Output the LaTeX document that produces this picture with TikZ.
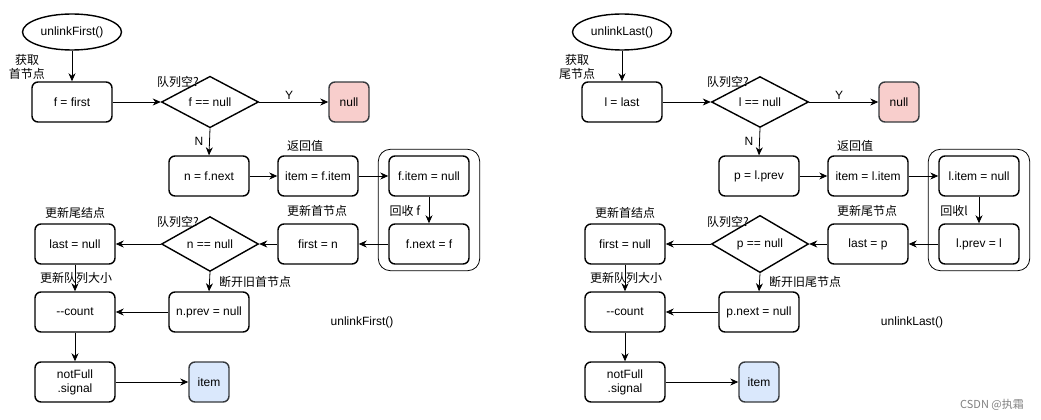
\documentclass[tikz,border=0pt]{standalone}
\usepackage{fontspec}
\setmainfont{Liberation Sans}
\newfontfamily\cjk{Noto Sans CJK SC}
\usetikzlibrary{shapes.geometric,arrows.meta,fit}
\definecolor{pinkf}{HTML}{F8CECC}
\definecolor{bluef}{HTML}{DAE8FC}
\definecolor{bordg}{HTML}{36393D}
\tikzset{
  fs/.style={font=\fontsize{12}{14}\selectfont},
  box/.style={fs, draw, line width=1.4pt, rounded corners=6pt, minimum width=80pt, minimum height=40pt, align=center, inner sep=1pt},
  sbox/.style={box, minimum width=40pt, draw=bordg},
  dia/.style={fs, draw, diamond, line width=1.4pt, minimum width=97pt, minimum height=37pt, inner sep=0pt},
  ell/.style={fs, draw, ellipse, line width=1.4pt, minimum width=99pt, minimum height=36pt, inner sep=0pt},
  lbl/.style={fs, inner sep=0pt, align=center},
  clbl/.style={lbl, font=\fontsize{12}{14}\selectfont\cjk},
  grp/.style={draw, line width=0.8pt, rounded corners=12pt, inner xsep=10pt, inner ysep=6pt},
  arr/.style={-{Stealth[length=8pt,width=7pt,inset=2.5pt]}, line width=0.8pt}
}
\begin{document}
\begin{tikzpicture}[x=1pt,y=-1pt]
\useasboundingbox (0,0) rectangle (1041,420);
% ---------------- left: unlinkFirst ----------------
\node[ell] (e1) at (72,32) {unlinkFirst()};
\node[box] (a1) at (72,102) {f = first};
\node[dia] (d1) at (210,102) {f == null};
\node[sbox, fill=pinkf] (n1) at (349,102) {null};
\node[box] (b1) at (209,176) {n = f.next};
\node[box] (b2) at (318,176) {item = f.item};
\node[box] (b3) at (429,176) {f.item = null};
\node[box] (b4) at (429,244) {f.next = f};
\node[grp, fit=(b3)(b4)] (g1) {};
\node[box] (b5) at (318,244) {first = n};
\node[dia] (d2) at (210,244) {n == null};
\node[box] (b6) at (75,244) {last = null};
\node[box] (b7) at (209,312) {n.prev = null};
\node[box] (b8) at (75,312) {-{}-count};
\node[box] (b9) at (75,382) {notFull\\.signal};
\node[sbox, fill=bluef] (i1) at (209,382) {item};

\node[clbl] (t1) at (27,67) {获取\\首节点};
\node[clbl] (t2) at (178,82) {队列空?};
\node[lbl] (t3) at (289,95) {Y};
\node[lbl] (t4) at (199,141) {N};
\node[clbl] (t5) at (305,146) {返回值};
\node[clbl] (t6) at (405,211) {回收 f};
\node[clbl] (t7) at (317,211) {更新首节点};
\node[clbl] (t8) at (75,213) {更新尾结点};
\node[clbl] (t9) at (178,222) {队列空?};
\node[clbl] (t10) at (76,278) {更新队列大小};
\node[clbl] (t11) at (255,282) {断开旧首节点};
\node[lbl] (t12) at (362,322) {unlinkFirst()};

\draw[arr] (e1.south) -- (a1.north);
\draw[arr] (a1.east) -- (d1.west);
\draw[arr] (d1.east) -- (n1.west);
\draw[arr] (d1.south) -- (b1.north);
\draw[arr] (b1.east) -- (b2.west);
\draw[arr] (b2.east) -- (b3.west);
\draw[arr] (b3.south) -- (b4.north);
\draw[arr] (b4.west) -- (b5.east);
\draw[arr] (b5.west) -- (d2.east);
\draw[arr] (d2.west) -- (b6.east);
\draw[arr] (d2.south) -- (b7.north);
\draw[arr] (b6.south) -- (b8.north);
\draw[arr] (b7.west) -- (b8.east);
\draw[arr] (b8.south) -- (b9.north);
\draw[arr] (b9.east) -- (i1.west);

% ---------------- right: unlinkLast ----------------
\node[ell] (e2) at (622,32) {unlinkLast()};
\node[box] (c1) at (622,102) {l = last};
\node[dia] (d3) at (760,102) {l == null};
\node[sbox, fill=pinkf] (n2) at (899,102) {null};
\node[box] (c2) at (759,176) {p = l.prev};
\node[box] (c3) at (868,176) {item = l.item};
\node[box] (c4) at (979,176) {l.item = null};
\node[box] (c5) at (979,244) {l.prev = l};
\node[grp, fit=(c4)(c5)] (g2) {};
\node[box] (c6) at (868,244) {last = p};
\node[dia] (d4) at (760,244) {p == null};
\node[box] (c7) at (625,244) {first = null};
\node[box] (c8) at (759,312) {p.next = null};
\node[box] (c9) at (625,312) {-{}-count};
\node[box] (c10) at (625,382) {notFull\\.signal};
\node[sbox, fill=bluef] (i2) at (759,382) {item};

\node[clbl] (s1) at (577,67) {获取\\尾节点};
\node[clbl] (s2) at (728,82) {队列空?};
\node[lbl] (s3) at (839,95) {Y};
\node[lbl] (s4) at (749,141) {N};
\node[clbl] (s5) at (855,146) {返回值};
\node[clbl] (s6) at (954,211) {回收l};
\node[clbl] (s7) at (867,211) {更新尾节点};
\node[clbl] (s8) at (625,213) {更新首结点};
\node[clbl] (s9) at (728,222) {队列空?};
\node[clbl] (s10) at (626,278) {更新队列大小};
\node[clbl] (s11) at (805,282) {断开旧尾节点};
\node[lbl] (s12) at (912,322) {unlinkLast()};

\draw[arr] (e2.south) -- (c1.north);
\draw[arr] (c1.east) -- (d3.west);
\draw[arr] (d3.east) -- (n2.west);
\draw[arr] (d3.south) -- (c2.north);
\draw[arr] (c2.east) -- (c3.west);
\draw[arr] (c3.east) -- (c4.west);
\draw[arr] (c4.south) -- (c5.north);
\draw[arr] (c5.west) -- (c6.east);
\draw[arr] (c6.west) -- (d4.east);
\draw[arr] (d4.west) -- (c7.east);
\draw[arr] (d4.south) -- (c8.north);
\draw[arr] (c7.south) -- (c9.north);
\draw[arr] (c8.west) -- (c9.east);
\draw[arr] (c9.south) -- (c10.north);
\draw[arr] (c10.east) -- (i2.west);

\node[inner sep=0pt, text=gray, font=\fontsize{11}{13}\selectfont\cjk] (wm) at (992,405) {CSDN @执霜};
\end{tikzpicture}
\end{document}
